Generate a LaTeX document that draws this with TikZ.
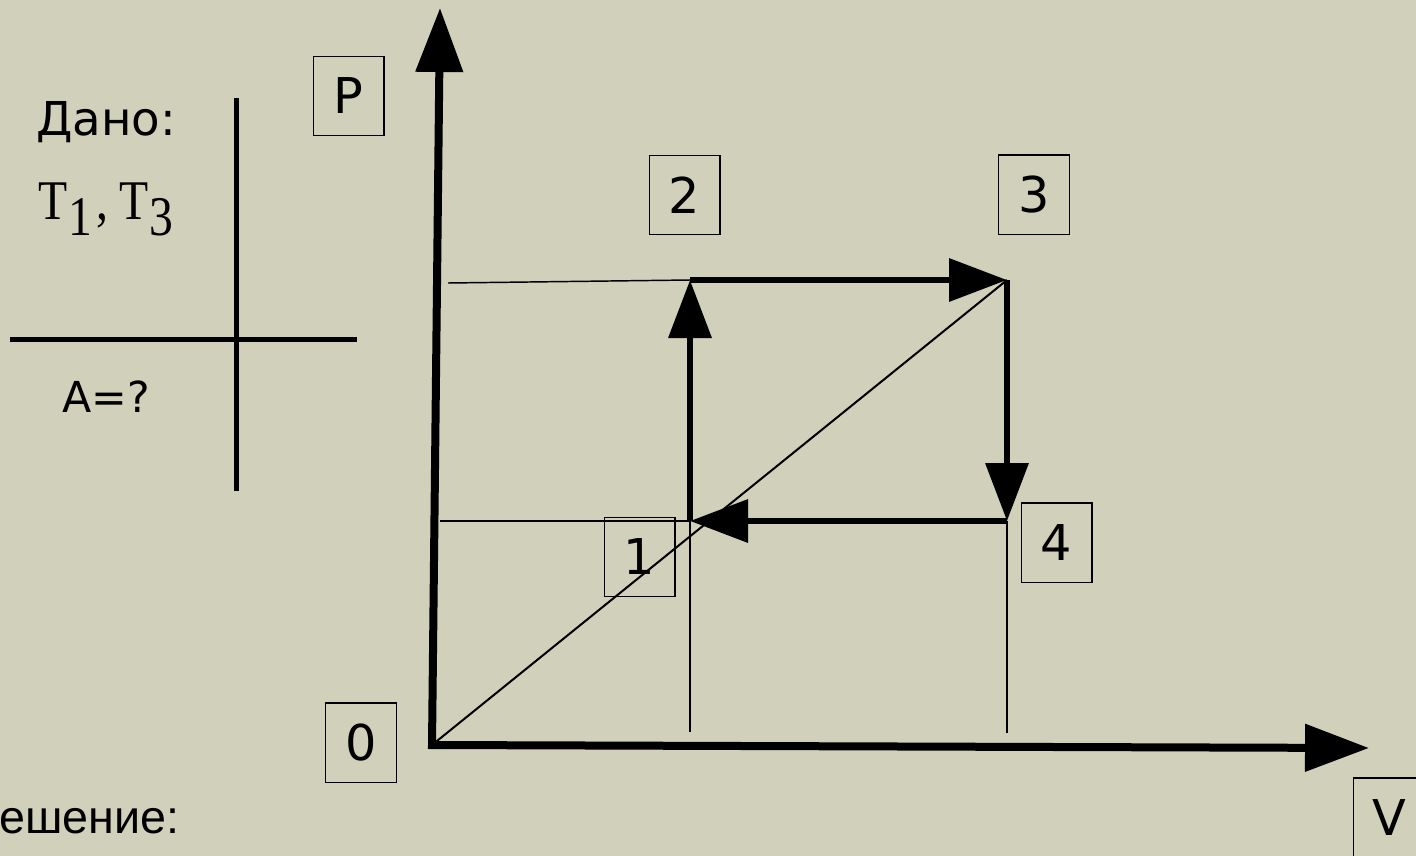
\documentclass[tikz,border=0pt]{standalone}
\usepackage{fontspec}
\setmainfont{DejaVu Sans}
\newfontfamily\serifT[FakeStretch=0.85]{Liberation Serif}
\newfontfamily\arialT{Liberation Sans}
\usetikzlibrary{arrows.meta}
\definecolor{bgc}{RGB}{209,208,186}
\tikzset{
  axisline/.style={line width=6pt, line join=miter, {Triangle[length=48pt,width=34.5pt]}-{Triangle[length=48pt,width=34.5pt]}},
  procline/.style={line width=5pt, -{Triangle[length=43.5pt,width=31.5pt]}},
  tableline/.style={line width=3.75pt},
  thinline/.style={line width=1.1pt},
  diagline/.style={line width=1.5pt},
  lblbox/.style={draw, line width=1pt, minimum width=53pt, minimum height=59.5pt, inner sep=0pt, font=\fontsize{37}{40}\selectfont},
}
\begin{document}
\begin{tikzpicture}[x=0.75pt,y=-0.75pt]
\fill[bgc] (0,0) rectangle (1416,856);
\useasboundingbox (0,0) rectangle (1416,856);
\begin{scope}
\clip (0,0) rectangle (1416,856);
% points
\coordinate (O) at (432,745);
\coordinate (ytip) at (440,8);
\coordinate (xtip) at (1369,748);
\coordinate (p1) at (690,521);
\coordinate (p2) at (690,280);
\coordinate (p3) at (1007,280);
\coordinate (p4) at (1007,521);
\coordinate (g2) at (448,283);
\coordinate (g1) at (440,521);
\coordinate (b1) at (690,732);
\coordinate (b4) at (1007,733);
\coordinate (tv1) at (236,98);
\coordinate (tv2) at (236,491);
\coordinate (th1) at (10,339);
\coordinate (th2) at (357,339);
% table
\draw[tableline] (tv1) -- (tv2);
\draw[tableline] (th1) -- (th2);
\node[anchor=base, font=\fontsize{35}{38}\selectfont] (dano) at (106,135) {Дано:};
\node[anchor=base west, inner sep=0pt, font=\serifT\fontsize{42}{46}\selectfont] (tt) at (38,219) {T\kern1pt\raisebox{-12pt}{1}\kern3pt,\kern8pt T\kern1pt\raisebox{-12pt}{3}};
\node[anchor=base, font=\fontsize{32}{36}\selectfont] (aq) at (106,412) {A=?};
\node[anchor=base west, inner sep=0pt, font=\arialT\fontsize{35}{40}\selectfont] (resh) at (-1,833) {ешение:};
% guides
\draw[thinline] (g2) -- (p2);
\draw[thinline] (g1) -- (p1);
\draw[thinline] (p1) -- (b1);
\draw[thinline] (p4) -- (b4);
\draw[diagline] (O) -- (p3);
% axes
\draw[axisline] (ytip) -- (O) -- (xtip);
% process
\draw[procline] (p1) -- (p2);
\draw[procline] (p2) -- (p3);
\draw[procline] (p3) -- (p4);
\draw[procline] (p4) -- (p1);
% labels
\node[lblbox] (lP) at (348.5,96) {P};
\node[lblbox] (l2) at (684.5,195) {2};
\node[lblbox] (l3) at (1034,194.5) {3};
\node[lblbox] (l1) at (639.5,557) {1};
\node[lblbox] (l4) at (1056.5,542.5) {4};
\node[lblbox] (l0) at (361,742.5) {0};
\node[lblbox] (lV) at (1389,817.5) {V};
\end{scope}
\end{tikzpicture}
\end{document}
